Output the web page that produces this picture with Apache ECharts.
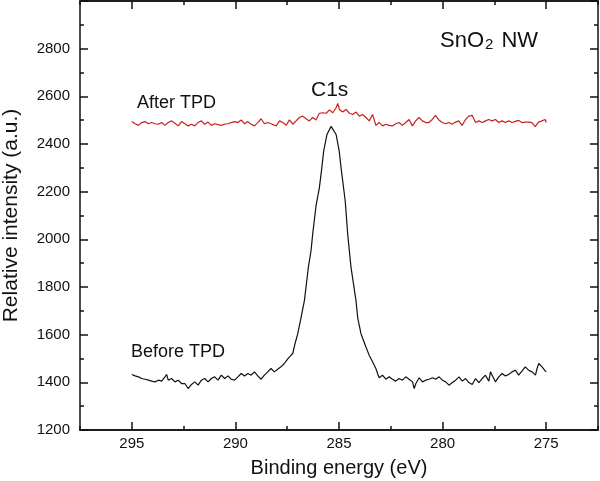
<!DOCTYPE html>
<html>
<head>
<meta charset="utf-8">
<script src="https://cdn.jsdelivr.net/npm/echarts@6/dist/echarts.min.js"></script>
<style>
  html, body { margin: 0; padding: 0; background: #fff; }
  #xps { width: 600px; height: 481px; }
</style>
</head>
<body>
<div id="xps"></div>
<script>
// C1s XPS spectra, [binding energy (eV), intensity (a.u.)]
var afterTPD = [
  [295.00,2494],[294.84,2485],[294.68,2478],[294.52,2490],[294.36,2494],[294.20,2485],[294.04,2490],[293.88,2485],
  [293.72,2483],[293.56,2490],[293.40,2478],[293.24,2490],[293.08,2497],[292.92,2487],[292.76,2476],[292.60,2494],
  [292.44,2485],[292.28,2476],[292.12,2483],[291.96,2476],[291.80,2490],[291.64,2497],[291.48,2483],[291.32,2492],
  [291.16,2478],[291.00,2485],[290.84,2481],[290.68,2478],[290.52,2483],[290.36,2485],[290.20,2490],[290.04,2494],
  [289.88,2490],[289.72,2501],[289.56,2485],[289.40,2494],[289.24,2483],[289.08,2476],[288.92,2490],[288.76,2506],
  [288.60,2485],[288.44,2490],[288.28,2485],[288.19,2490],[288.03,2476],[287.87,2497],[287.71,2490],[287.55,2478],
  [287.39,2501],[287.23,2483],[287.07,2497],[286.91,2511],[286.75,2517],[286.59,2506],[286.43,2497],[286.27,2511],
  [286.11,2501],[285.95,2529],[285.79,2531],[285.62,2529],[285.46,2543],[285.30,2531],[285.14,2552],[285.06,2570],
  [284.98,2545],[284.82,2534],[284.66,2545],[284.50,2529],[284.34,2524],[284.18,2534],[284.02,2517],[283.86,2524],
  [283.70,2511],[283.54,2497],[283.38,2524],[283.22,2478],[283.06,2490],[282.90,2476],[282.74,2483],[282.58,2478],
  [282.42,2476],[282.26,2485],[282.10,2490],[281.94,2478],[281.78,2490],[281.62,2503],[281.46,2476],[281.30,2497],
  [281.14,2511],[280.98,2497],[280.82,2490],[280.66,2490],[280.50,2503],[280.34,2520],[280.18,2501],[280.02,2490],
  [279.86,2485],[279.70,2490],[279.54,2483],[279.38,2492],[279.22,2497],[279.06,2478],[278.89,2503],[278.73,2517],
  [278.57,2520],[278.41,2490],[278.25,2497],[278.09,2490],[277.93,2497],[277.77,2503],[277.61,2497],[277.45,2503],
  [277.29,2490],[277.13,2497],[276.97,2490],[276.81,2497],[276.65,2490],[276.49,2495],[276.33,2499],[276.17,2490],
  [276.01,2492],[275.85,2492],[275.69,2490],[275.53,2473],[275.37,2492],[275.21,2497],[275.05,2503],[275.00,2490]
];

var beforeTPD = [
  [295.00,1433],[294.84,1427],[294.68,1423],[294.52,1416],[294.36,1413],[294.20,1409],[294.04,1405],[293.88,1402],
  [293.72,1409],[293.56,1405],[293.40,1423],[293.32,1433],[293.24,1409],[293.08,1416],[292.92,1402],[292.76,1409],
  [292.60,1395],[292.44,1395],[292.28,1374],[292.12,1391],[291.96,1402],[291.80,1388],[291.64,1409],[291.48,1416],
  [291.32,1402],[291.16,1416],[291.00,1423],[290.84,1409],[290.68,1430],[290.52,1416],[290.36,1427],[290.20,1413],
  [290.04,1409],[289.88,1423],[289.72,1437],[289.56,1427],[289.40,1437],[289.24,1430],[289.08,1444],[288.92,1427],
  [288.76,1413],[288.60,1430],[288.44,1444],[288.28,1458],[288.12,1444],[287.96,1455],[287.80,1465],[287.64,1479],
  [287.48,1497],[287.32,1513],[287.23,1522],[287.12,1563],[286.99,1604],[286.83,1673],[286.67,1743],[286.48,1882],
  [286.35,1952],[286.27,2022],[286.11,2140],[285.95,2215],[285.83,2300],[285.74,2370],[285.58,2440],[285.38,2474],
  [285.14,2440],[284.99,2370],[284.90,2300],[284.70,2161],[284.58,2022],[284.42,1882],[284.18,1743],[284.10,1673],
  [283.94,1604],[283.70,1548],[283.54,1513],[283.38,1486],[283.22,1458],[283.14,1437],[283.06,1419],[282.90,1430],
  [282.74,1413],[282.58,1423],[282.42,1413],[282.26,1405],[282.10,1416],[281.94,1409],[281.78,1423],[281.62,1413],
  [281.45,1402],[281.37,1374],[281.29,1395],[281.13,1419],[280.97,1402],[280.81,1409],[280.65,1413],[280.49,1419],
  [280.33,1413],[280.17,1423],[280.01,1409],[279.85,1402],[279.69,1388],[279.53,1399],[279.37,1409],[279.21,1423],
  [279.05,1405],[278.89,1416],[278.73,1399],[278.57,1391],[278.41,1416],[278.25,1399],[278.09,1416],[277.93,1430],
  [277.77,1405],[277.69,1444],[277.61,1430],[277.45,1402],[277.29,1423],[277.13,1437],[276.97,1427],[276.81,1433],
  [276.65,1444],[276.49,1451],[276.33,1430],[276.17,1447],[276.01,1465],[275.85,1451],[275.68,1444],[275.52,1430],
  [275.44,1458],[275.36,1479],[275.20,1465],[275.04,1447],[275.00,1444]
];

var xMajorTicks = [275, 280, 285, 290, 295];
var xRange = [272.5, 297.5];
var yRange = [1200, 3000];

var font = 'Arial, "Liberation Sans", sans-serif';
var ink = '#111';

function line() { return { show: true, onZero: false, lineStyle: { color: ink, width: 1.5 } }; }
function tick(len, custom) {
  var t = { show: true, inside: true, length: len, lineStyle: { color: ink, width: 1.5 } };
  if (custom) t.customValues = custom;
  return t;
}

// x: short tick every 2.5 eV, labels only on whole 5 eV
function xAxis(pos, labels) {
  return {
    type: 'value', position: pos, inverse: true, min: xRange[0], max: xRange[1], interval: 2.5,
    axisLine: line(),
    axisTick: tick(4),
    axisLabel: {
      show: labels, color: ink, fontSize: 15, fontFamily: font, margin: 6,
      formatter: function (v) { return v % 5 === 0 ? String(v) : ''; }
    },
    splitLine: { show: false }
  };
}
// longer ticks on the 5 eV marks
function xMajor(pos) {
  return {
    type: 'value', position: pos, inverse: true, min: xRange[0], max: xRange[1],
    axisLine: line(),
    axisTick: tick(8, xMajorTicks),
    axisLabel: { show: false },
    splitLine: { show: false }
  };
}
function yAxis(pos, labels) {
  return {
    type: 'value', position: pos, min: yRange[0], max: yRange[1], interval: 200,
    axisLine: line(),
    axisTick: tick(8),
    minorTick: { show: true, splitNumber: 2, length: 4, lineStyle: { color: ink, width: 1.5 } },
    axisLabel: {
      show: labels, color: ink, fontSize: 15, fontFamily: font, margin: 10,
      formatter: function (v) { return v >= 3000 ? '' : String(v); }
    },
    splitLine: { show: false },
    minorSplitLine: { show: false }
  };
}

var bottomX = xAxis('bottom', true);
bottomX.name = 'Binding energy (eV)';
bottomX.nameLocation = 'middle';
bottomX.nameGap = 28;
bottomX.nameTextStyle = { color: ink, fontSize: 20, fontFamily: font };

var leftY = yAxis('left', true);
leftY.name = 'Relative intensity (a.u.)';
leftY.nameLocation = 'middle';
leftY.nameGap = 58;
leftY.nameTextStyle = { color: ink, fontSize: 21, fontFamily: font };

var dom = document.getElementById('xps');
var myChart = echarts.init(dom, null, { renderer: 'canvas' });

var option = {
  backgroundColor: '#fff',
  animation: false,
  grid: { left: 80, right: 2, top: 1, bottom: 51, containLabel: false, outerBoundsMode: 'none' },
  xAxis: [bottomX, xAxis('top', false), xMajor('bottom'), xMajor('top')],
  yAxis: [leftY, yAxis('right', false)],
  series: [
    {
      name: 'After TPD', type: 'line', data: afterTPD, showSymbol: false,
      lineStyle: { color: '#c8201e', width: 1.2 }, itemStyle: { color: '#c8201e' }
    },
    {
      name: 'Before TPD', type: 'line', data: beforeTPD, showSymbol: false,
      lineStyle: { color: '#111', width: 1.2 }, itemStyle: { color: '#111' }
    }
  ],
  graphic: [
    { type: 'text', left: 137, top: 94, style: { text: 'After TPD', fill: ink, font: '18px ' + font } },
    { type: 'text', left: 131, top: 343, style: { text: 'Before TPD', fill: ink, font: '18px ' + font } },
    { type: 'text', left: 311, top: 80, style: { text: 'C1s', fill: ink, font: '21px ' + font } },
    {
      type: 'text', left: 440, top: 30,
      style: {
        text: '{m|SnO}{s|2}{m| NW}',
        fill: ink,
        rich: {
          m: { fontSize: 22, fontFamily: font, fill: ink, verticalAlign: 'bottom' },
          s: { fontSize: 15, fontFamily: font, fill: ink, verticalAlign: 'bottom', padding: [0, 2, 0, 1] }
        }
      }
    }
  ]
};

if (option && typeof option === 'object') {
  myChart.setOption(option);
}
window.addEventListener('resize', myChart.resize);
</script>
</body>
</html>
